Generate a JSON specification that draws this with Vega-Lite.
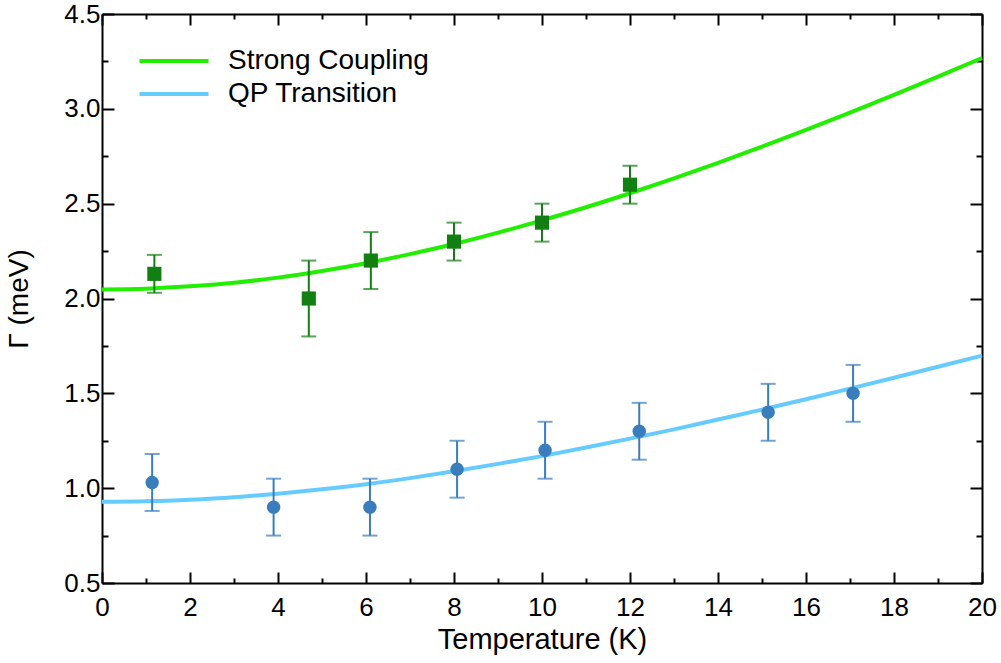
{
  "$schema": "https://vega.github.io/schema/vega-lite/v6.json",
  "width": 880,
  "height": 569,
  "autosize": {"type": "none"},
  "padding": {"left": 102, "top": 14, "right": 19, "bottom": 80},
  "background": "white",
  "config": {
    "view": {"stroke": null},
    "font": "Liberation Sans",
    "axis": {
      "grid": false,
      "domainColor": "black",
      "domainWidth": 2,
      "tickColor": "black",
      "tickWidth": 2,
      "labelColor": "black",
      "titleColor": "black",
      "labelFont": "Liberation Sans",
      "titleFont": "Liberation Sans",
      "labelFontSize": 26,
      "titleFontSize": 29,
      "titleFontWeight": "normal"
    }
  },
  "datasets": {
    "lines": [
      {"series": "Strong Coupling", "T": 0, "G": 2.048},
      {"series": "Strong Coupling", "T": 1, "G": 2.052},
      {"series": "Strong Coupling", "T": 2, "G": 2.064},
      {"series": "Strong Coupling", "T": 3, "G": 2.083},
      {"series": "Strong Coupling", "T": 4, "G": 2.110},
      {"series": "Strong Coupling", "T": 5, "G": 2.145},
      {"series": "Strong Coupling", "T": 6, "G": 2.186},
      {"series": "Strong Coupling", "T": 7, "G": 2.234},
      {"series": "Strong Coupling", "T": 8, "G": 2.287},
      {"series": "Strong Coupling", "T": 9, "G": 2.347},
      {"series": "Strong Coupling", "T": 10, "G": 2.412},
      {"series": "Strong Coupling", "T": 11, "G": 2.481},
      {"series": "Strong Coupling", "T": 12, "G": 2.555},
      {"series": "Strong Coupling", "T": 13, "G": 2.633},
      {"series": "Strong Coupling", "T": 14, "G": 2.715},
      {"series": "Strong Coupling", "T": 15, "G": 2.801},
      {"series": "Strong Coupling", "T": 16, "G": 2.889},
      {"series": "Strong Coupling", "T": 17, "G": 2.980},
      {"series": "Strong Coupling", "T": 18, "G": 3.074},
      {"series": "Strong Coupling", "T": 19, "G": 3.170},
      {"series": "Strong Coupling", "T": 20, "G": 3.268},
      {"series": "QP Transition", "T": 0, "G": 0.928},
      {"series": "QP Transition", "T": 1, "G": 0.931},
      {"series": "QP Transition", "T": 2, "G": 0.939},
      {"series": "QP Transition", "T": 3, "G": 0.952},
      {"series": "QP Transition", "T": 4, "G": 0.971},
      {"series": "QP Transition", "T": 5, "G": 0.994},
      {"series": "QP Transition", "T": 6, "G": 1.021},
      {"series": "QP Transition", "T": 7, "G": 1.053},
      {"series": "QP Transition", "T": 8, "G": 1.089},
      {"series": "QP Transition", "T": 9, "G": 1.128},
      {"series": "QP Transition", "T": 10, "G": 1.169},
      {"series": "QP Transition", "T": 11, "G": 1.214},
      {"series": "QP Transition", "T": 12, "G": 1.261},
      {"series": "QP Transition", "T": 13, "G": 1.310},
      {"series": "QP Transition", "T": 14, "G": 1.362},
      {"series": "QP Transition", "T": 15, "G": 1.414},
      {"series": "QP Transition", "T": 16, "G": 1.469},
      {"series": "QP Transition", "T": 17, "G": 1.525},
      {"series": "QP Transition", "T": 18, "G": 1.582},
      {"series": "QP Transition", "T": 19, "G": 1.640},
      {"series": "QP Transition", "T": 20, "G": 1.699}
    ],
    "pts": [
      {"series": "Strong Coupling", "T": 1.19, "G": 2.13, "lo": 2.03, "hi": 2.23},
      {"series": "Strong Coupling", "T": 4.70, "G": 2.00, "lo": 1.80, "hi": 2.20},
      {"series": "Strong Coupling", "T": 6.11, "G": 2.20, "lo": 2.05, "hi": 2.35},
      {"series": "Strong Coupling", "T": 8.00, "G": 2.30, "lo": 2.20, "hi": 2.40},
      {"series": "Strong Coupling", "T": 10.00, "G": 2.40, "lo": 2.30, "hi": 2.50},
      {"series": "Strong Coupling", "T": 12.00, "G": 2.60, "lo": 2.50, "hi": 2.70},
      {"series": "QP Transition", "T": 1.14, "G": 1.03, "lo": 0.88, "hi": 1.18},
      {"series": "QP Transition", "T": 3.90, "G": 0.90, "lo": 0.75, "hi": 1.05},
      {"series": "QP Transition", "T": 6.09, "G": 0.90, "lo": 0.75, "hi": 1.05},
      {"series": "QP Transition", "T": 8.07, "G": 1.10, "lo": 0.95, "hi": 1.25},
      {"series": "QP Transition", "T": 10.07, "G": 1.20, "lo": 1.05, "hi": 1.35},
      {"series": "QP Transition", "T": 12.21, "G": 1.30, "lo": 1.15, "hi": 1.45},
      {"series": "QP Transition", "T": 15.14, "G": 1.40, "lo": 1.25, "hi": 1.55},
      {"series": "QP Transition", "T": 17.07, "G": 1.50, "lo": 1.35, "hi": 1.65}
    ]
  },
  "resolve": {"axis": {"x": "independent", "y": "independent"}},
  "layer": [
    {
      "data": {"name": "lines"},
      "mark": {"type": "line", "strokeWidth": 4, "interpolate": "monotone"},
      "encoding": {
        "x": {
          "field": "T", "type": "quantitative",
          "scale": {"domain": [0, 20], "nice": false, "zero": false},
          "axis": {
            "orient": "bottom",
            "title": "Temperature (K)",
            "values": [0,1,2,3,4,5,6,7,8,9,10,11,12,13,14,15,16,17,18,19,20],
            "labelExpr": "datum.value % 2 == 0 ? format(datum.value, 'd') : ''",
            "tickSize": {"condition": {"test": "datum.value % 2 == 0", "value": -11}, "value": -5},
            "labelPadding": 22,
            "titlePadding": 5,
            "labelFlush": false
          }
        },
        "y": {
          "field": "G", "type": "quantitative",
          "scale": {"domain": [0.5, 3.5], "nice": false, "zero": false},
          "axis": {
            "orient": "left",
            "title": "Γ (meV)",
            "titleFontSize": 28,
            "values": [0.5,0.75,1,1.25,1.5,1.75,2,2.25,2.5,2.75,3,3.25,3.5],
            "labelExpr": "abs(datum.value*2 - round(datum.value*2)) < 0.01 ? (datum.value == 3.5 ? '4.5' : format(datum.value, '.1f')) : ''",
            "tickSize": {"condition": {"test": "abs(datum.value*2 - round(datum.value*2)) < 0.01", "value": -12}, "value": -6},
            "labelPadding": 14,
            "titlePadding": 30,
            "labelFlush": false
          }
        },
        "color": {
          "field": "series", "type": "nominal",
          "scale": {"domain": ["Strong Coupling", "QP Transition"], "range": ["#22ee00", "#66ccff"]},
          "legend": {
            "title": null,
            "orient": "none",
            "legendX": 58,
            "legendY": 33,
            "padding": 0,
            "labelFont": "Liberation Sans",
            "labelFontSize": 28,
            "labelLimit": 500,
            "labelColor": "black",
            "labelOffset": 40,
            "symbolType": "M-3,0H3",
            "symbolSize": 529,
            "symbolStrokeWidth": 4,
            "rowPadding": 5
          }
        }
      }
    },
    {
      "data": {"name": "pts"},
      "mark": {"type": "rule", "strokeWidth": 2},
      "encoding": {
        "x": {"field": "T", "type": "quantitative", "axis": {
            "orient": "top", "title": null, "labels": false,
            "values": [0,1,2,3,4,5,6,7,8,9,10,11,12,13,14,15,16,17,18,19,20],
            "tickSize": {"condition": {"test": "datum.value % 2 == 0", "value": -11}, "value": -5}
        }},
        "y": {"field": "lo", "type": "quantitative", "axis": {
            "orient": "right", "title": null, "labels": false,
            "values": [0.5,0.75,1,1.25,1.5,1.75,2,2.25,2.5,2.75,3,3.25,3.5],
            "tickSize": {"condition": {"test": "abs(datum.value*2 - round(datum.value*2)) < 0.01", "value": -12}, "value": -6}
        }},
        "y2": {"field": "hi"},
        "color": {"condition": {"test": "datum.series == 'QP Transition'", "value": "#3a7dbd"}, "value": "#127f12"}
      }
    },
    {
      "data": {"name": "pts"},
      "mark": {"type": "tick", "orient": "horizontal", "size": 15, "thickness": 2},
      "encoding": {
        "x": {"field": "T", "type": "quantitative", "axis": null},
        "y": {"field": "lo", "type": "quantitative", "axis": null},
        "color": {"condition": {"test": "datum.series == 'QP Transition'", "value": "#3a7dbd"}, "value": "#127f12"}
      }
    },
    {
      "data": {"name": "pts"},
      "mark": {"type": "tick", "orient": "horizontal", "size": 15, "thickness": 2},
      "encoding": {
        "x": {"field": "T", "type": "quantitative", "axis": null},
        "y": {"field": "hi", "type": "quantitative", "axis": null},
        "color": {"condition": {"test": "datum.series == 'QP Transition'", "value": "#3a7dbd"}, "value": "#127f12"}
      }
    },
    {
      "data": {"name": "pts"},
      "transform": [{"filter": "datum.series == 'Strong Coupling'"}],
      "mark": {"type": "point", "shape": "square", "filled": true, "size": 200, "opacity": 1, "color": "#127f12"},
      "encoding": {
        "x": {"field": "T", "type": "quantitative", "axis": null},
        "y": {"field": "G", "type": "quantitative", "axis": null}
      }
    },
    {
      "data": {"name": "pts"},
      "transform": [{"filter": "datum.series == 'QP Transition'"}],
      "mark": {"type": "point", "shape": "circle", "filled": true, "size": 180, "opacity": 1, "color": "#3a7dbd"},
      "encoding": {
        "x": {"field": "T", "type": "quantitative", "axis": null},
        "y": {"field": "G", "type": "quantitative", "axis": null}
      }
    }
  ]
}
